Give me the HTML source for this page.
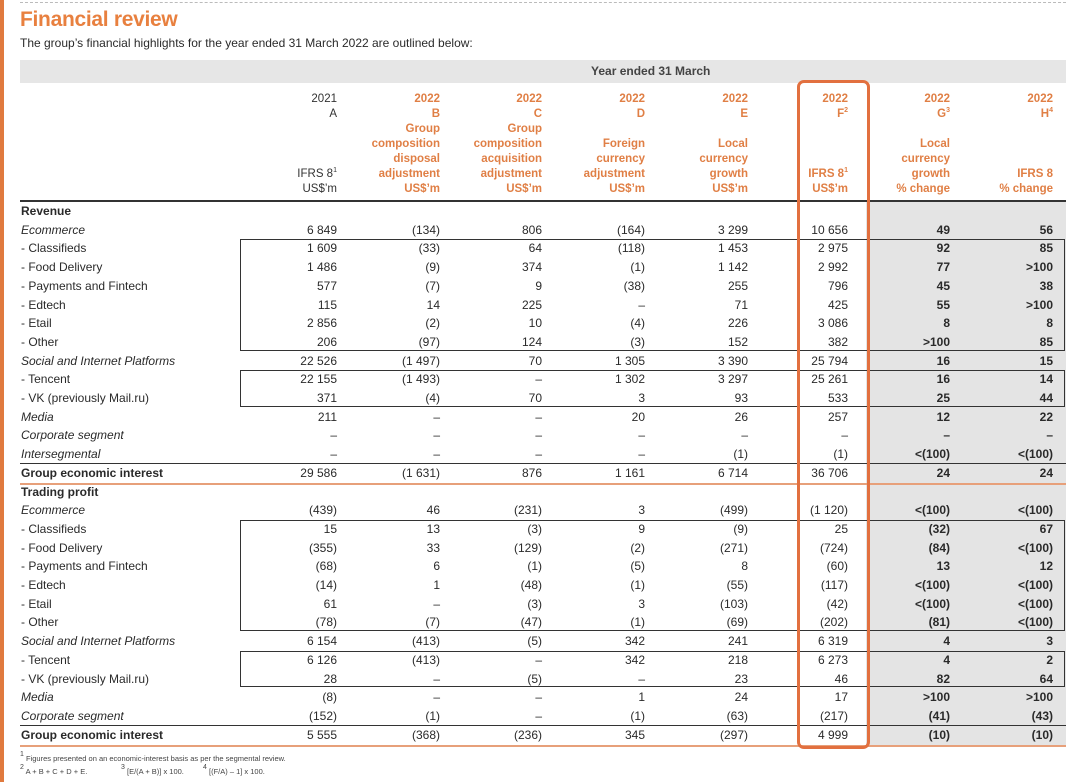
<!DOCTYPE html>
<html><head><meta charset="utf-8">
<style>
body{margin:0;width:1080px;height:782px;background:#fff;position:relative;overflow:hidden;font-family:"Liberation Sans",sans-serif;color:#2a2a2a}
.a{position:absolute;white-space:nowrap}
.t{font-size:12px;line-height:14px}
.r{text-align:right}
.hd{font-size:11.5px;line-height:15px;text-align:right;position:absolute;width:120px}
.or{color:#e07f45;font-weight:bold}
sup{font-size:7px;line-height:0;vertical-align:5px}
</style></head><body>
<div class="a" style="left:0;top:0;width:4px;height:782px;background:#e07a3e"></div>
<div class="a" style="left:20px;top:2px;width:1046px;border-top:1px dashed #bbb"></div>
<div class="a" style="left:20px;top:8px;font-size:21px;font-weight:bold;color:#e8803f;letter-spacing:-0.3px">Financial review</div>
<div class="a" style="left:20px;top:36px;font-size:12px">The group’s financial highlights for the year ended 31 March 2022 are outlined below:</div>
<div class="a" style="left:20px;top:60px;width:1046px;height:23px;background:#e6e6e6"></div>
<div class="a" style="left:591px;top:64px;font-size:12px;font-weight:bold;color:#444">Year ended 31 March</div>
<div class="a" style="left:866px;top:202px;width:200px;height:543px;background:#e4e4e4"></div>
<div id="tbl"></div>
<div class="a" style="left:797px;top:80px;width:67px;height:663px;border:3px solid #e2703f;border-radius:7px"></div>
<div class="a" style="left:20px;top:754px;font-size:7.5px;color:#444"><sup>1</sup> Figures presented on an economic-interest basis as per the segmental review.</div>
<div class="a" style="left:20px;top:767px;font-size:7.5px;color:#444"><sup>2</sup> A + B + C + D + E.</div>
<div class="a" style="left:121px;top:767px;font-size:7.5px;color:#444"><sup>3</sup> [E/(A + B)] x 100.</div>
<div class="a" style="left:203px;top:767px;font-size:7.5px;color:#444"><sup>4</sup> [(F/A) – 1] x 100.</div>
<script>
const colRight=[337,440,542,645,748,848,950,1053];
const colHeaders=[
 ["2021","A","","","","IFRS 8<sup>1</sup>","US$’m"],
 ["2022","B","Group","composition","disposal","adjustment","US$’m"],
 ["2022","C","Group","composition","acquisition","adjustment","US$’m"],
 ["2022","D","","Foreign","currency","adjustment","US$’m"],
 ["2022","E","","Local","currency","growth","US$’m"],
 ["2022","F<sup>2</sup>","","","","IFRS 8<sup>1</sup>","US$’m"],
 ["2022","G<sup>3</sup>","","Local","currency","growth","% change"],
 ["2022","H<sup>4</sup>","","","","IFRS 8","% change"]];
const labels=["Revenue","Ecommerce","- Classifieds","- Food Delivery","- Payments and Fintech","- Edtech","- Etail","- Other","Social and Internet Platforms","- Tencent","- VK (previously Mail.ru)","Media","Corporate segment","Intersegmental","Group economic interest",
"Trading profit","Ecommerce","- Classifieds","- Food Delivery","- Payments and Fintech","- Edtech","- Etail","- Other","Social and Internet Platforms","- Tencent","- VK (previously Mail.ru)","Media","Corporate segment","Group economic interest"];
const kinds="bissssssissiiibbissssssissiib";
const values=[
 null,
 ["6 849","(134)","806","(164)","3 299","10 656","49","56"],
 ["1 609","(33)","64","(118)","1 453","2 975","92","85"],
 ["1 486","(9)","374","(1)","1 142","2 992","77",">100"],
 ["577","(7)","9","(38)","255","796","45","38"],
 ["115","14","225","–","71","425","55",">100"],
 ["2 856","(2)","10","(4)","226","3 086","8","8"],
 ["206","(97)","124","(3)","152","382",">100","85"],
 ["22 526","(1 497)","70","1 305","3 390","25 794","16","15"],
 ["22 155","(1 493)","–","1 302","3 297","25 261","16","14"],
 ["371","(4)","70","3","93","533","25","44"],
 ["211","–","–","20","26","257","12","22"],
 ["–","–","–","–","–","–","–","–"],
 ["–","–","–","–","(1)","(1)","<(100)","<(100)"],
 ["29 586","(1 631)","876","1 161","6 714","36 706","24","24"],
 null,
 ["(439)","46","(231)","3","(499)","(1 120)","<(100)","<(100)"],
 ["15","13","(3)","9","(9)","25","(32)","67"],
 ["(355)","33","(129)","(2)","(271)","(724)","(84)","<(100)"],
 ["(68)","6","(1)","(5)","8","(60)","13","12"],
 ["(14)","1","(48)","(1)","(55)","(117)","<(100)","<(100)"],
 ["61","–","(3)","3","(103)","(42)","<(100)","<(100)"],
 ["(78)","(7)","(47)","(1)","(69)","(202)","(81)","<(100)"],
 ["6 154","(413)","(5)","342","241","6 319","4","3"],
 ["6 126","(413)","–","342","218","6 273","4","2"],
 ["28","–","(5)","–","23","46","82","64"],
 ["(8)","–","–","1","24","17",">100",">100"],
 ["(152)","(1)","–","(1)","(63)","(217)","(41)","(43)"],
 ["5 555","(368)","(236)","345","(297)","4 999","(10)","(10)"]];
const boxes=[[2,7],[9,10],[17,22],[24,25]];
const totals=[14,28];
const T=document.getElementById('tbl');
const y0=211,dy=18.7;
function cy(i){return y0+i*dy;}
function add(tag,css,html,name){const e=document.createElement(tag);e.className='a';e.style.cssText=css;if(html!=null)e.innerHTML=html;


T.appendChild(e);return e;}
colHeaders.forEach((h,c)=>{h.forEach((s,k)=>{if(!s)return;
 const e=add('div','left:'+(colRight[c]-120)+'px;top:'+(92+k*15)+'px;','<span>'+s+'</span>','column-header-line');
 e.className='hd'+(c>0?' or':'');
 if(c==0)e.style.color='#333';
});});
add('div','left:20px;top:200px;width:1046px;height:2px;background:#333','', 'header-rule');
boxes.forEach(b=>{add('div','left:240px;top:'+(cy(b[0])-9)+'px;width:825px;height:'+((b[1]-b[0]+1)*dy-1)+'px;border:1px solid #333;box-sizing:border-box','','group-box');});
totals.forEach(t=>{add('div','left:20px;top:'+(cy(t)-10)+'px;width:1046px;height:1px;background:#333','','total-rule');
 add('div','left:20px;top:'+(cy(t)+10)+'px;width:1046px;height:2px;background:#e7a07a','','total-underline');});
labels.forEach((l,i)=>{const k=kinds[i];
 const st='left:21px;top:'+(cy(i)-7)+'px;'+(k=='b'?'font-weight:bold;':'')+(k=='i'?'font-style:italic;':'');
 const e=add('div',st,l,'row-label');e.classList.add('t');
 const v=values[i];if(!v)return;
 v.forEach((s,c)=>{const ee=add('div','left:'+(colRight[c]-100)+'px;width:100px;top:'+(cy(i)-7)+'px;'+(c>=6?'font-weight:bold;':''),s,'cell-value');ee.classList.add('t','r');});
});
</script>
</body></html>
